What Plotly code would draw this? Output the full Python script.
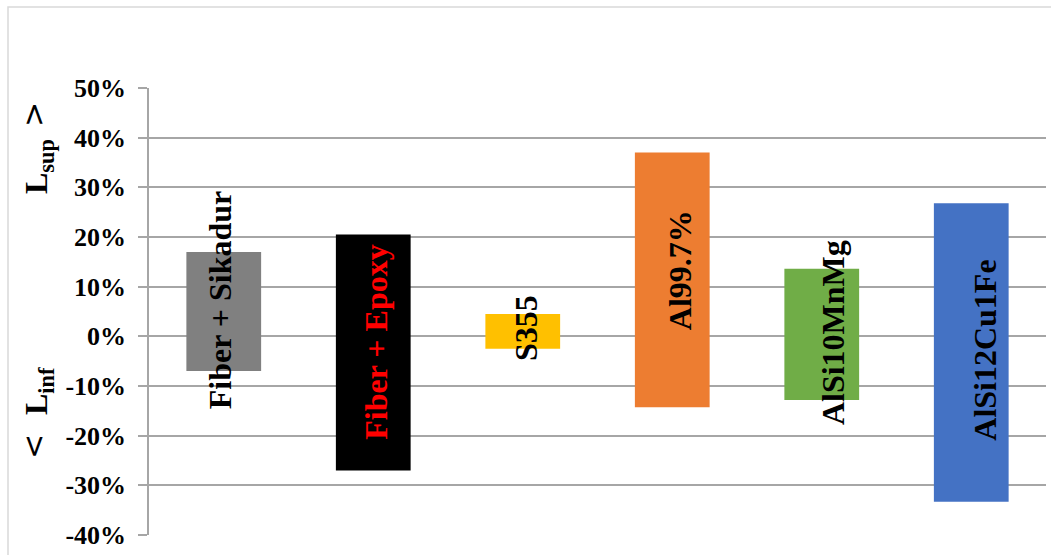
import plotly.graph_objects as go

categories = ["Fiber + Sikadur", "Fiber + Epoxy", "S355", "Al99.7%", "AlSi10MnMg", "AlSi12Cu1Fe"]
l_inf = [-7.0, -27.0, -2.5, -14.3, -12.8, -33.3]   # lower limit, %
l_sup = [17.0, 20.5, 4.5, 37.0, 13.6, 26.8]        # upper limit, %
bar_colors = ["#808080", "#000000", "#FFC000", "#ED7D31", "#70AD47", "#4472C4"]
label_colors = ["#000000", "#FF0000", "#000000", "#000000", "#000000", "#000000"]
y_ticks = [-40, -30, -20, -10, 0, 10, 20, 30, 40, 50]
y_tick_labels = [f"{v}%" for v in y_ticks]

# label placement nudges (pixels), style only
label_dx = [-4, 3, 4, 8, 12, 14]
label_dy = [12, 10, 3, 10, 2, 2]

W, H = 1051, 555
ml, mr, mt, mb = 149, 5, 88, 20
pw, ph = W - ml - mr, H - mt - mb


def px(xp):
    return (xp - ml) / pw


def py(yp):
    return 1 - (yp - mt) / ph


fig = go.Figure()
fig.add_trace(go.Bar(
    x=categories,
    y=[s - i for s, i in zip(l_sup, l_inf)],
    base=l_inf,
    marker=dict(color=bar_colors, line=dict(width=0)),
    width=0.5,
    showlegend=False,
    hoverinfo="skip",
))

serif = "Liberation Serif, Times New Roman, serif"
for c, lo, hi, col, dx, dy in zip(categories, l_inf, l_sup, label_colors, label_dx, label_dy):
    fig.add_annotation(
        x=c, y=(lo + hi) / 2, xref="x", yref="y",
        xanchor="center", yanchor="middle",
        text=f"<b>{c}</b>", textangle=-90, showarrow=False,
        font=dict(family=serif, size=32, color=col),
        xshift=dx, yshift=dy,
    )

# axis-title style annotations
common = dict(xref="paper", yref="paper", xanchor="center", yanchor="middle",
              textangle=-90, showarrow=False)
fig.add_annotation(x=px(38), y=py(167), text="<b>L<sub>sup</sub></b>",
                   font=dict(family=serif, size=32, color="#000000"), **common)
fig.add_annotation(x=px(33), y=py(115), text="&gt;",
                   font=dict(family="DejaVu Sans", size=30, color="#000000"), **common)
fig.add_annotation(x=px(38), y=py(391), text="<b>L<sub>inf</sub></b>",
                   font=dict(family=serif, size=32, color="#000000"), **common)
fig.add_annotation(x=px(33), y=py(447), text="&lt;",
                   font=dict(family="DejaVu Sans", size=30, color="#000000"), **common)

# outer chart border
fig.add_shape(
    type="rect", xref="paper", yref="paper",
    x0=px(8), x1=px(W + 5), y0=py(H + 5), y1=py(7),
    line=dict(color="#d9d9d9", width=1.5), fillcolor="rgba(0,0,0,0)", layer="below",
)

fig.update_layout(
    width=W, height=H,
    margin=dict(l=ml, r=mr, t=mt, b=mb),
    paper_bgcolor="white", plot_bgcolor="white",
    bargap=0.5,
    font=dict(family=serif, color="#000000"),
    xaxis=dict(showticklabels=False, showgrid=False, zeroline=False, showline=False, ticks=""),
    yaxis=dict(
        range=[-40, 50], tickvals=y_ticks, ticktext=[f"<b>{t}</b>" for t in y_tick_labels],
        showgrid=True, gridcolor="#a6a6a6", gridwidth=1.5, zeroline=False,
        showline=True, linecolor="#a6a6a6", linewidth=1.5,
        ticks="outside", ticklen=9, tickcolor="#a6a6a6", tickwidth=1.5,
        ticklabelstandoff=7,
        tickfont=dict(family=serif, size=26, color="#000000"),
    ),
)

fig.write_html("out.html")
